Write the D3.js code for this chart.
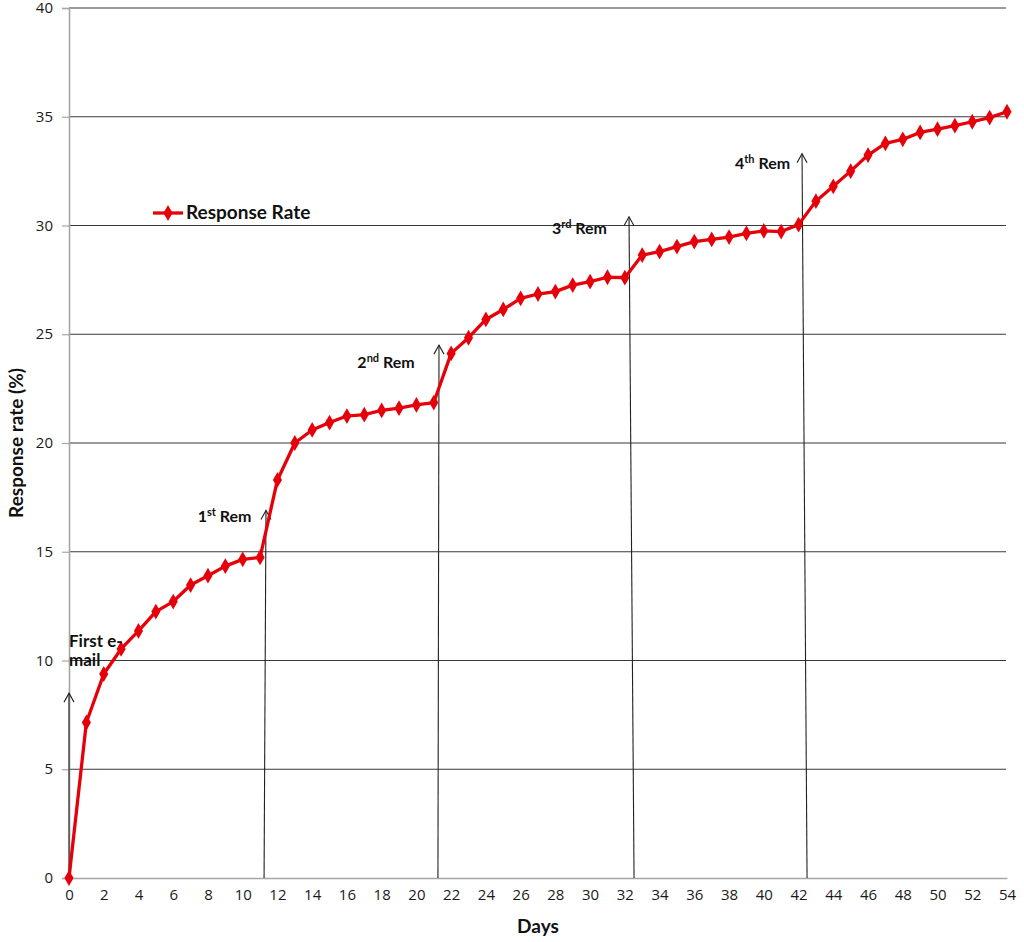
<!DOCTYPE html>
<html>
<head>
<meta charset="utf-8">
<script src="https://cdn.jsdelivr.net/npm/d3@7"></script>
<style>
  html, body { margin: 0; padding: 0; background: #fff; }
  svg { display: block; }
</style>
</head>
<body>
<svg id="chart" width="1024" height="942"></svg>
<script>
// ---- data ----
const days = d3.range(0, 55);
const responseRate = [
  0, 7.15, 9.38, 10.53, 11.36, 12.25, 12.71, 13.47, 13.9, 14.34,
  14.65, 14.74, 18.3, 20.0, 20.6, 20.94, 21.24, 21.3, 21.5, 21.6,
  21.75, 21.86, 24.12, 24.84, 25.68, 26.14, 26.65, 26.85, 26.96, 27.26,
  27.42, 27.62, 27.6, 28.64, 28.8, 29.03, 29.26, 29.36, 29.47, 29.64,
  29.75, 29.72, 30.04, 31.12, 31.8, 32.5, 33.24, 33.78, 33.96, 34.28,
  34.43, 34.59, 34.77, 34.96, 35.23
];
const xTicks = d3.range(0, 55, 2);
const yTicks = d3.range(0, 41, 5);
const seriesName = "Response Rate";
const xTitle = "Days";
const yTitle = "Response rate (%)";

// reminder arrows (in data units)
const arrowBaseDay = [0, 11.23, 21.24, 32.53, 42.49];
const arrowTipDay  = [0, 11.34, 21.3, 32.24, 42.2];
const arrowTipVal  = [8.5, 16.9, 24.5, 30.4, 33.3];
// reminder labels: [main text, superscript, rest], anchor in data units
const remMain  = ["1", "2", "3", "4"];
const remSup   = ["st", "nd", "rd", "th"];
const remRest  = [" Rem", " Rem", " Rem", " Rem"];
const remDay   = [7.41, 16.6, 27.8, 38.34];
const remVal   = [16.38, 23.43, 29.6, 32.58];
const firstLines = ["First e-", "mail"];
const firstDay = 0;
const firstVal = [10.63, 9.75];

// ---- layout ----
const svg = d3.select("#chart");
const mLeft = 69, mTop = 8, mRight = 1007, mBottom = 878;
const x = d3.scaleLinear().domain([0, 54]).range([mLeft, mRight]);
const y = d3.scaleLinear().domain([0, 40]).range([mBottom, mTop]);
const RED = "#e6000a";
const tickFont = "'Open Sans', 'DejaVu Sans', sans-serif";
const boldFont = "Lato, 'Open Sans', sans-serif";

// horizontal gridlines
svg.append("g").selectAll("line")
  .data(yTicks.filter(v => v > 0))
  .join("line")
  .attr("x1", mLeft).attr("x2", mRight - 1)
  .attr("y1", d => y(d)).attr("y2", d => y(d))
  .attr("stroke", "#383838").attr("stroke-width", 1.2);

// y axis
const yAxis = svg.append("g")
  .attr("transform", `translate(${mLeft},0)`)
  .call(d3.axisLeft(y).tickValues(yTicks).tickSize(7).tickPadding(9).tickFormat(d3.format("d")));
yAxis.select(".domain").attr("stroke", "#a6a6a6").attr("stroke-width", 1.6);
yAxis.selectAll(".tick line").attr("stroke", "#a6a6a6").attr("stroke-width", 1.2);
yAxis.selectAll("text").attr("font-family", tickFont).attr("font-size", 15).attr("fill", "#1a1a1a")
  .attr("dy", "0.3em");

// x axis
const xAxis = svg.append("g")
  .attr("transform", `translate(0,${mBottom})`)
  .call(d3.axisBottom(x).tickValues(xTicks).tickSize(0).tickPadding(11).tickFormat(d3.format("d")));
xAxis.select(".domain").attr("stroke", "#a6a6a6").attr("stroke-width", 1.6);
xAxis.selectAll("text").attr("font-family", tickFont).attr("font-size", 15).attr("fill", "#1a1a1a");

// arrows
const arrowG = svg.append("g").attr("stroke", "#222").attr("fill", "none").attr("stroke-width", 1.1);
arrowBaseDay.forEach((bd, i) => {
  const x0 = x(bd), y0 = y(0), x1 = x(arrowTipDay[i]), y1 = y(arrowTipVal[i]);
  arrowG.append("line").attr("x1", x0).attr("y1", y0).attr("x2", x1).attr("y2", y1);
  arrowG.append("path").attr("d", `M${x1 - 5},${y1 + 9} L${x1},${y1} L${x1 + 5},${y1 + 9}`);
});

// line + markers
const line = d3.line().x((d, i) => x(days[i])).y(d => y(d));
svg.append("path")
  .datum(responseRate)
  .attr("d", line)
  .attr("fill", "none")
  .attr("stroke", RED)
  .attr("stroke-width", 3.3)
  .attr("stroke-linejoin", "round");
const diamond = d3.symbol().type(d3.symbolDiamond).size(72);
svg.append("g").selectAll("path")
  .data(responseRate)
  .join("path")
  .attr("d", diamond)
  .attr("transform", (d, i) => `translate(${x(days[i])},${y(d)})`)
  .attr("fill", RED);

// annotation labels
const annG = svg.append("g").attr("font-family", boldFont).attr("font-weight", "bold").attr("fill", "#111");
remMain.forEach((m, i) => {
  const t = annG.append("text").attr("x", x(remDay[i])).attr("y", y(remVal[i])).attr("font-size", 16);
  t.append("tspan").text(m);
  t.append("tspan").attr("font-size", 11).attr("dy", -6).text(remSup[i]);
  t.append("tspan").attr("dy", 6).text(remRest[i]);
});
firstLines.forEach((s, i) => {
  annG.append("text").attr("x", x(firstDay)).attr("y", y(firstVal[i]))
    .attr("font-size", 17).text(s);
});

// legend
const lg = svg.append("g").attr("transform", "translate(153,213)");
lg.append("line").attr("x1", 0).attr("x2", 30).attr("y1", 0).attr("y2", 0)
  .attr("stroke", RED).attr("stroke-width", 3.3);
lg.append("path").attr("d", diamond).attr("transform", "translate(15,0)").attr("fill", RED);
lg.append("text").attr("x", 33).attr("y", 6)
  .attr("font-family", boldFont).attr("font-weight", "bold").attr("font-size", 19)
  .attr("fill", "#111").text(seriesName);

// axis titles
svg.append("text").attr("x", (mLeft + mRight) / 2).attr("y", 933)
  .attr("text-anchor", "middle").attr("font-family", boldFont).attr("font-weight", "bold")
  .attr("font-size", 19).attr("fill", "#111").text(xTitle);
svg.append("text").attr("transform", `translate(23,${(mTop + mBottom) / 2}) rotate(-90)`)
  .attr("text-anchor", "middle").attr("font-family", boldFont).attr("font-weight", "bold")
  .attr("font-size", 19).attr("fill", "#111").text(yTitle);
</script>
</body>
</html>
